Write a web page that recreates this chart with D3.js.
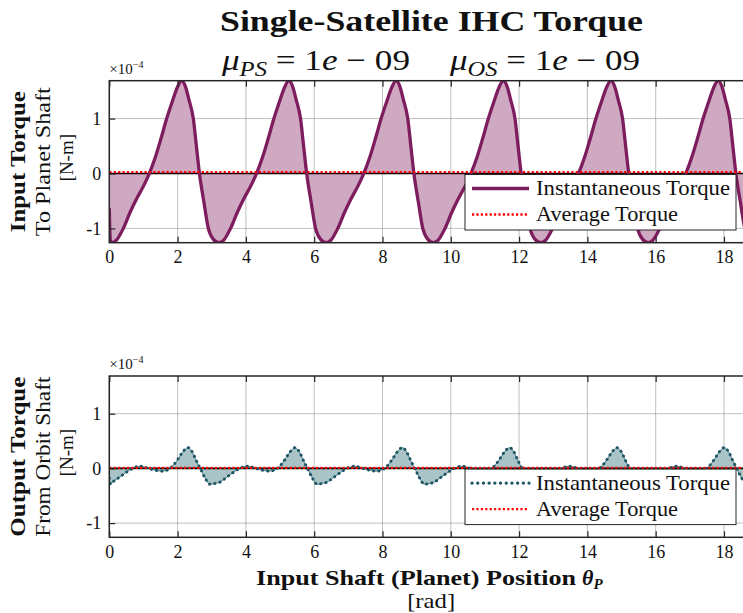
<!DOCTYPE html>
<html>
<head>
<meta charset="utf-8">
<script src="https://cdn.jsdelivr.net/npm/d3@7"></script>
<style>
  html, body { margin: 0; padding: 0; background: #fff; overflow: hidden; }
  svg { display: block; }
  text { font-family: "Liberation Serif", "Times New Roman", serif; fill: #111; }
</style>
</head>
<body>
<svg id="chart" width="743" height="613"></svg>
<script>
// ---------------- data (units of 1e-4 N-m) ----------------
const xTicks = [0, 2, 4, 6, 8, 10, 12, 14, 16, 18];
const yTicks = [-1, 0, 1];
const yTickLabels = ["-1", "0", "1"];
const xMax = 18.85;          // 6*pi
const yDomain = [-1.26, 1.69];

// Input torque (planet shaft)
const inputX = [
  0, 0.03, 0.07, 0.2, 0.41, 0.6, 0.8, 1.0, 1.17, 1.35, 1.52, 1.68, 1.85, 2.0, 2.12, 2.22, 2.33, 2.46, 2.55, 2.64, 2.77, 2.9, 3.05,
  3.21, 3.34, 3.55, 3.74, 3.94, 4.14, 4.31, 4.49, 4.66, 4.82, 4.99, 5.14, 5.26, 5.36, 5.47, 5.60, 5.69, 5.78, 5.91, 6.04, 6.19,
  6.35, 6.48, 6.69, 6.88, 7.08, 7.28, 7.45, 7.63, 7.80, 7.96, 8.13, 8.28, 8.40, 8.50, 8.61, 8.74, 8.83, 8.92, 9.05, 9.18, 9.33,
  9.49, 9.62, 9.83, 10.02, 10.22, 10.42, 10.59, 10.77, 10.94, 11.10, 11.27, 11.42, 11.54, 11.64, 11.75, 11.88, 11.97, 12.06, 12.19, 12.32, 12.47,
  12.64, 12.77, 12.98, 13.17, 13.37, 13.57, 13.74, 13.92, 14.09, 14.25, 14.42, 14.57, 14.69, 14.79, 14.90, 15.03, 15.12, 15.21, 15.34, 15.47, 15.62,
  15.78, 15.91, 16.12, 16.31, 16.51, 16.71, 16.88, 17.06, 17.23, 17.39, 17.56, 17.71, 17.83, 17.93, 18.04, 18.17, 18.26, 18.35, 18.48, 18.61, 18.76, 18.85
];
const inputY = [
  -0.63, -1.22, -1.26, -1.22, -1.0, -0.72, -0.46, -0.23, 0, 0.3, 0.65, 1.0, 1.32, 1.58, 1.69, 1.6, 1.35, 1.0, 0.5, 0, -0.52, -1.0, -1.2,
  -1.26, -1.22, -1.0, -0.72, -0.46, -0.23, 0, 0.3, 0.65, 1.0, 1.32, 1.58, 1.69, 1.6, 1.35, 1.0, 0.5, 0, -0.52, -1.0, -1.2,
  -1.26, -1.22, -1.0, -0.72, -0.46, -0.23, 0, 0.3, 0.65, 1.0, 1.32, 1.58, 1.69, 1.6, 1.35, 1.0, 0.5, 0, -0.52, -1.0, -1.2,
  -1.26, -1.22, -1.0, -0.72, -0.46, -0.23, 0, 0.3, 0.65, 1.0, 1.32, 1.58, 1.69, 1.6, 1.35, 1.0, 0.5, 0, -0.52, -1.0, -1.2,
  -1.26, -1.22, -1.0, -0.72, -0.46, -0.23, 0, 0.3, 0.65, 1.0, 1.32, 1.58, 1.69, 1.6, 1.35, 1.0, 0.5, 0, -0.52, -1.0, -1.2,
  -1.26, -1.22, -1.0, -0.72, -0.46, -0.23, 0, 0.3, 0.65, 1.0, 1.32, 1.58, 1.69, 1.6, 1.35, 1.0, 0.5, 0, -0.52, -1.0, -1.2, -1.25
];
const inputAvg = 0.025;

// Output torque (orbit shaft)
const outputX = [
  0, 0.04, 0.1, 0.3, 0.5, 0.65, 0.8, 0.93, 1.05, 1.2, 1.4, 1.55, 1.7, 1.85, 2.0, 2.15, 2.3, 2.42, 2.55, 2.68, 2.8, 2.95, 3.05,
  3.24, 3.44, 3.64, 3.79, 3.94, 4.07, 4.19, 4.34, 4.54, 4.69, 4.84, 4.99, 5.14, 5.29, 5.44, 5.56, 5.69, 5.82, 5.94, 6.09, 6.19,
  6.38, 6.58, 6.78, 6.93, 7.08, 7.21, 7.33, 7.48, 7.68, 7.83, 7.98, 8.13, 8.28, 8.43, 8.58, 8.70, 8.83, 8.96, 9.08, 9.23, 9.33,
  9.52, 9.72, 9.92, 10.07, 10.22, 10.35, 10.47, 10.62, 10.82, 10.97, 11.12, 11.27, 11.42, 11.57, 11.72, 11.84, 11.97, 12.10, 12.22, 12.37, 12.47,
  12.67, 12.87, 13.07, 13.22, 13.37, 13.50, 13.62, 13.77, 13.97, 14.12, 14.27, 14.42, 14.57, 14.72, 14.87, 14.99, 15.12, 15.25, 15.37, 15.52, 15.62,
  15.81, 16.01, 16.21, 16.36, 16.51, 16.64, 16.76, 16.91, 17.11, 17.26, 17.41, 17.56, 17.71, 17.86, 18.01, 18.13, 18.26, 18.39, 18.51, 18.66, 18.76, 18.85
];
const outputY = [
  -0.18, -0.29, -0.25, -0.16, -0.07, -0.01, 0.03, 0.04, 0.02, -0.01, -0.04, -0.05, -0.03, 0.04, 0.16, 0.3, 0.38, 0.31, 0.14, -0.02, -0.17, -0.29, -0.28,
  -0.25, -0.16, -0.07, -0.01, 0.03, 0.04, 0.02, -0.01, -0.04, -0.05, -0.03, 0.04, 0.16, 0.3, 0.38, 0.31, 0.14, -0.02, -0.17, -0.29, -0.28,
  -0.25, -0.16, -0.07, -0.01, 0.03, 0.04, 0.02, -0.01, -0.04, -0.05, -0.03, 0.04, 0.16, 0.3, 0.38, 0.31, 0.14, -0.02, -0.17, -0.29, -0.28,
  -0.25, -0.16, -0.07, -0.01, 0.03, 0.04, 0.02, -0.01, -0.04, -0.05, -0.03, 0.04, 0.16, 0.3, 0.38, 0.31, 0.14, -0.02, -0.17, -0.29, -0.28,
  -0.25, -0.16, -0.07, -0.01, 0.03, 0.04, 0.02, -0.01, -0.04, -0.05, -0.03, 0.04, 0.16, 0.3, 0.38, 0.31, 0.14, -0.02, -0.17, -0.29, -0.28,
  -0.25, -0.16, -0.07, -0.01, 0.03, 0.04, 0.02, -0.01, -0.04, -0.05, -0.03, 0.04, 0.16, 0.3, 0.38, 0.31, 0.14, -0.02, -0.17, -0.29, -0.28, -0.26
];
const outputAvg = 0.01;

const legendLabels = ["Instantaneous Torque", "Average Torque"];

// ---------------- drawing ----------------
const svg = d3.select("#chart");

const COLORS = {
  inLine: "#7d1d5d", inFill: "#cfa9c2",
  outLine: "#1b5664", outFill: "#a9c3c7",
  avg: "#ff0000", grid: "#8c8c8c", axis: "#262626"
};

const left = 109.3, right = 753;
const x = d3.scaleLinear().domain([0, xMax]).range([left, right]);

// Title
svg.append("text").attr("x", 220).attr("y", 31)
  .attr("font-size", 30).attr("font-weight", "bold")
  .attr("textLength", 423).attr("lengthAdjust", "spacingAndGlyphs")
  .text("Single-Satellite IHC Torque");

function mu(xPos, len, s) {
  const t = svg.append("text").attr("x", xPos).attr("y", 70).attr("font-size", 30)
    .attr("textLength", len).attr("lengthAdjust", "spacingAndGlyphs");
  t.append("tspan").attr("font-style", "italic").text("μ");
  t.append("tspan").attr("font-style", "italic").attr("font-size", 21).attr("dy", 6).text(s);
  t.append("tspan").attr("dy", -6).text(" = 1");
  t.append("tspan").attr("font-style", "italic").text("e");
  t.append("tspan").text(" − 09");
}
mu(222, 188, "PS");
mu(450, 190, "OS");

function panel(cfg) {
  const { top, bottom, xs, ys, avg, lineColor, fillColor, dotted, labels, lens } = cfg;
  const y = d3.scaleLinear().domain(yDomain).range([bottom, top]);
  const g = svg.append("g");
  const clipId = "clip" + Math.round(top);
  svg.append("clipPath").attr("id", clipId).append("rect")
    .attr("x", left).attr("y", top).attr("width", right - left).attr("height", bottom - top);

  // grid
  const grid = g.append("g").attr("stroke", COLORS.grid).attr("stroke-width", 1).attr("stroke-opacity", 0.55);
  grid.selectAll(".gx").data(xTicks).join("line")
    .attr("x1", d => x(d)).attr("x2", d => x(d)).attr("y1", top).attr("y2", bottom);
  grid.selectAll(".gy").data(yTicks).join("line")
    .attr("x1", left).attr("x2", right).attr("y1", d => y(d)).attr("y2", d => y(d));

  const pts = xs.map((v, i) => [v, ys[i]]);
  const plot = g.append("g").attr("clip-path", `url(#${clipId})`);
  const area = d3.area().x(d => x(d[0])).y0(y(0)).y1(d => y(d[1])).curve(d3.curveMonotoneX);
  const line = d3.line().x(d => x(d[0])).y(d => y(d[1])).curve(d3.curveMonotoneX);
  plot.append("path").datum(pts).attr("d", area).attr("fill", fillColor).attr("stroke", "none");
  // zero line
  plot.append("line").attr("x1", left).attr("x2", right).attr("y1", y(0)).attr("y2", y(0))
    .attr("stroke", "#000").attr("stroke-width", 1.6);
  if (dotted) {
    plot.append("path").datum(pts).attr("d", line).attr("fill", "none")
      .attr("stroke", lineColor).attr("stroke-width", 1).attr("stroke-opacity", 0.7);
    plot.append("path").datum(pts).attr("d", line).attr("fill", "none")
      .attr("stroke", lineColor).attr("stroke-width", 3).attr("stroke-linecap", "round")
      .attr("stroke-dasharray", "0.1,5.2");
  } else {
    plot.append("path").datum(pts).attr("d", line).attr("fill", "none")
      .attr("stroke", lineColor).attr("stroke-width", 3.3).attr("stroke-linejoin", "round");
  }
  // average
  plot.append("line").attr("x1", left).attr("x2", right).attr("y1", y(avg)).attr("y2", y(avg))
    .attr("stroke", COLORS.avg).attr("stroke-width", 2.4).attr("stroke-dasharray", "2.2,2.2");

  // axes
  const xAxis = d3.axisBottom(x).tickValues(xTicks).tickSize(-6).tickPadding(8).tickFormat(d3.format("d"));
  const xAxisTop = d3.axisTop(x).tickValues(xTicks).tickSize(-6).tickFormat("");
  const yAxis = d3.axisLeft(y).tickValues(yTicks).tickSize(-6).tickPadding(8).tickFormat((d, i) => yTickLabels[i]);
  const gx = g.append("g").attr("transform", `translate(0,${bottom})`).call(xAxis);
  const gxt = g.append("g").attr("transform", `translate(0,${top})`).call(xAxisTop);
  const gy = g.append("g").attr("transform", `translate(${left},0)`).call(yAxis);
  [gx, gxt, gy].forEach(a => {
    a.select(".domain").remove();
    a.selectAll(".tick line").attr("stroke", COLORS.axis).attr("stroke-width", 1.2);
    a.selectAll("text").attr("font-size", 18).attr("fill", "#262626")
      .attr("font-family", "Liberation Serif, serif");
  });
  // box
  g.append("rect").attr("x", left).attr("y", top).attr("width", right - left).attr("height", bottom - top)
    .attr("fill", "none").attr("stroke", COLORS.axis).attr("stroke-width", 1.5);

  // exponent
  const ex = g.append("text").attr("x", left).attr("y", top - 7).attr("font-size", 15).attr("fill", "#262626");
  ex.append("tspan").text("×10");
  ex.append("tspan").attr("dy", -6).attr("font-size", 10).text("−4");

  // y labels
  const cy = (top + bottom) / 2;
  const yl = svg.append("g");
  yl.append("text").attr("transform", `translate(25,${cy}) rotate(-90)`).attr("text-anchor", "middle")
    .attr("font-size", 20).attr("font-weight", "bold")
    .attr("textLength", lens[0]).attr("lengthAdjust", "spacingAndGlyphs").text(labels[0]);
  yl.append("text").attr("transform", `translate(50,${cy}) rotate(-90)`).attr("text-anchor", "middle")
    .attr("font-size", 21)
    .attr("textLength", lens[1]).attr("lengthAdjust", "spacingAndGlyphs").text(labels[1]);
  yl.append("text").attr("transform", `translate(73,${cy - 4}) rotate(-90)`).attr("text-anchor", "middle")
    .attr("font-size", 19).text(labels[2]);

  // legend
  const lw = 271, lh = 55.5;
  const lx = right - 17 - lw, ly = bottom - 12.7 - lh;
  const lg = g.append("g").attr("transform", `translate(${lx},${ly})`);
  lg.append("rect").attr("width", lw).attr("height", lh).attr("fill", "#fff")
    .attr("stroke", "#262626").attr("stroke-width", 1);
  const rows = [
    { label: legendLabels[0], color: lineColor, dash: dotted ? "0.1,5.6" : null, w: 3.3, len: 194 },
    { label: legendLabels[1], color: COLORS.avg, dash: "2.2,2.2", w: 2.4, len: 142 }
  ];
  rows.forEach((r, i) => {
    const yy = 14 + i * 26;
    const ln = lg.append("line").attr("x1", 7).attr("x2", 64).attr("y1", yy).attr("y2", yy)
      .attr("stroke", r.color).attr("stroke-width", r.w);
    if (r.dash) ln.attr("stroke-dasharray", r.dash);
    if (r.dash && i === 0) ln.attr("stroke-linecap", "round");
    lg.append("text").attr("x", 71).attr("y", yy + 6.5).attr("font-size", 21)
      .attr("textLength", r.len).attr("lengthAdjust", "spacingAndGlyphs").text(r.label);
  });
}

panel({
  top: 80.7, bottom: 242.7, xs: inputX, ys: inputY, avg: inputAvg,
  lineColor: COLORS.inLine, fillColor: COLORS.inFill, dotted: false,
  labels: ["Input Torque", "To Planet Shaft", "[N-m]"], lens: [141, 149]
});
panel({
  top: 376, bottom: 537.3, xs: outputX, ys: outputY, avg: outputAvg,
  lineColor: COLORS.outLine, fillColor: COLORS.outFill, dotted: true,
  labels: ["Output Torque", "From Orbit Shaft", "[N-m]"], lens: [160, 160]
});

// x-axis label
svg.append("text").attr("x", 256).attr("y", 585)
  .attr("font-size", 21).attr("font-weight", "bold")
  .attr("textLength", 320).attr("lengthAdjust", "spacingAndGlyphs")
  .text("Input Shaft (Planet) Position");
const th = svg.append("text").attr("x", 582).attr("y", 585).attr("font-size", 22).attr("font-weight", "bold");
th.append("tspan").attr("font-style", "italic").text("θ");
th.append("tspan").attr("font-style", "italic").attr("font-size", 15).attr("dy", 4).text("P");
svg.append("text").attr("x", (left + right) / 2).attr("y", 608)
  .attr("text-anchor", "middle").attr("font-size", 22)
  .attr("textLength", 48).attr("lengthAdjust", "spacingAndGlyphs").text("[rad]");
</script>
</body>
</html>
